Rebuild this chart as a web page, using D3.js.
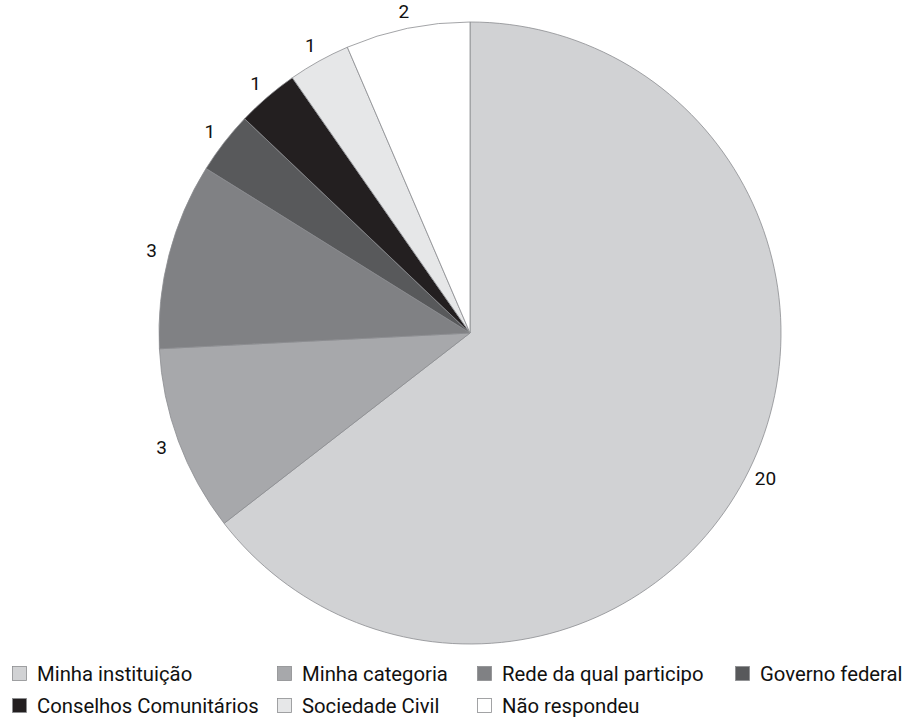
<!DOCTYPE html>
<html>
<head>
<meta charset="utf-8">
<script src="https://cdn.jsdelivr.net/npm/d3@7"></script>
<style>
  html, body { margin: 0; padding: 0; background: #fff; }
  svg { display: block; }
  text { font-family: Roboto, "Open Sans", sans-serif; fill: #111; }
</style>
</head>
<body>
<svg id="chart" width="906" height="719"></svg>
<script>
const categories = ["Minha instituição", "Minha categoria", "Rede da qual participo", "Governo federal",
                    "Conselhos Comunitários", "Sociedade Civil", "Não respondeu"];
const values = [20, 3, 3, 1, 1, 1, 2];
const colors = ["#d1d2d4", "#a7a8ab", "#808184", "#58595b", "#231f20", "#e6e7e8", "#ffffff"];

const svg = d3.select("#chart");
const cx = 470, cy = 333, R = 311;

const pie = d3.pie().sort(null).value(d => d.value);
const data = categories.map((c, i) => ({ name: c, value: values[i], color: colors[i] }));
const arcs = pie(data);

const arc = d3.arc().innerRadius(0).outerRadius(R);
const labelArc = d3.arc().innerRadius(329).outerRadius(329);

const g = svg.append("g").attr("transform", `translate(${cx},${cy})`);

g.selectAll("path.slice")
  .data(arcs)
  .join("path")
  .attr("class", "slice")
  .attr("d", arc)
  .attr("fill", d => d.data.color)
  .attr("stroke", "#8c8d90")
  .attr("stroke-width", 0.8)
  .attr("stroke-linejoin", "round");

g.selectAll("text.lbl")
  .data(arcs)
  .join("text")
  .attr("class", "lbl")
  .attr("transform", d => {
    const [x, y] = labelArc.centroid(d);
    return `translate(${x},${y})`;
  })
  .attr("text-anchor", "middle")
  .attr("dy", "0.36em")
  .attr("font-size", 19)
  .text(d => d.data.value);

// Legend
const legendCols = [12, 277, 477, 735];
const legendRows = [674, 706];
const perRow = 4;
const lg = svg.append("g");
data.forEach((d, i) => {
  const col = i % perRow, row = Math.floor(i / perRow);
  const x = legendCols[col], y = legendRows[row];
  lg.append("rect")
    .attr("x", x + 0.5).attr("y", y - 7.5)
    .attr("width", 14).attr("height", 14)
    .attr("fill", d.color)
    .attr("stroke", "#8c8d90")
    .attr("stroke-width", 0.8);
  lg.append("text")
    .attr("x", x + 25).attr("y", y)
    .attr("dy", "0.36em")
    .attr("font-size", 20.3)
    .text(d.name);
});
</script>
</body>
</html>
